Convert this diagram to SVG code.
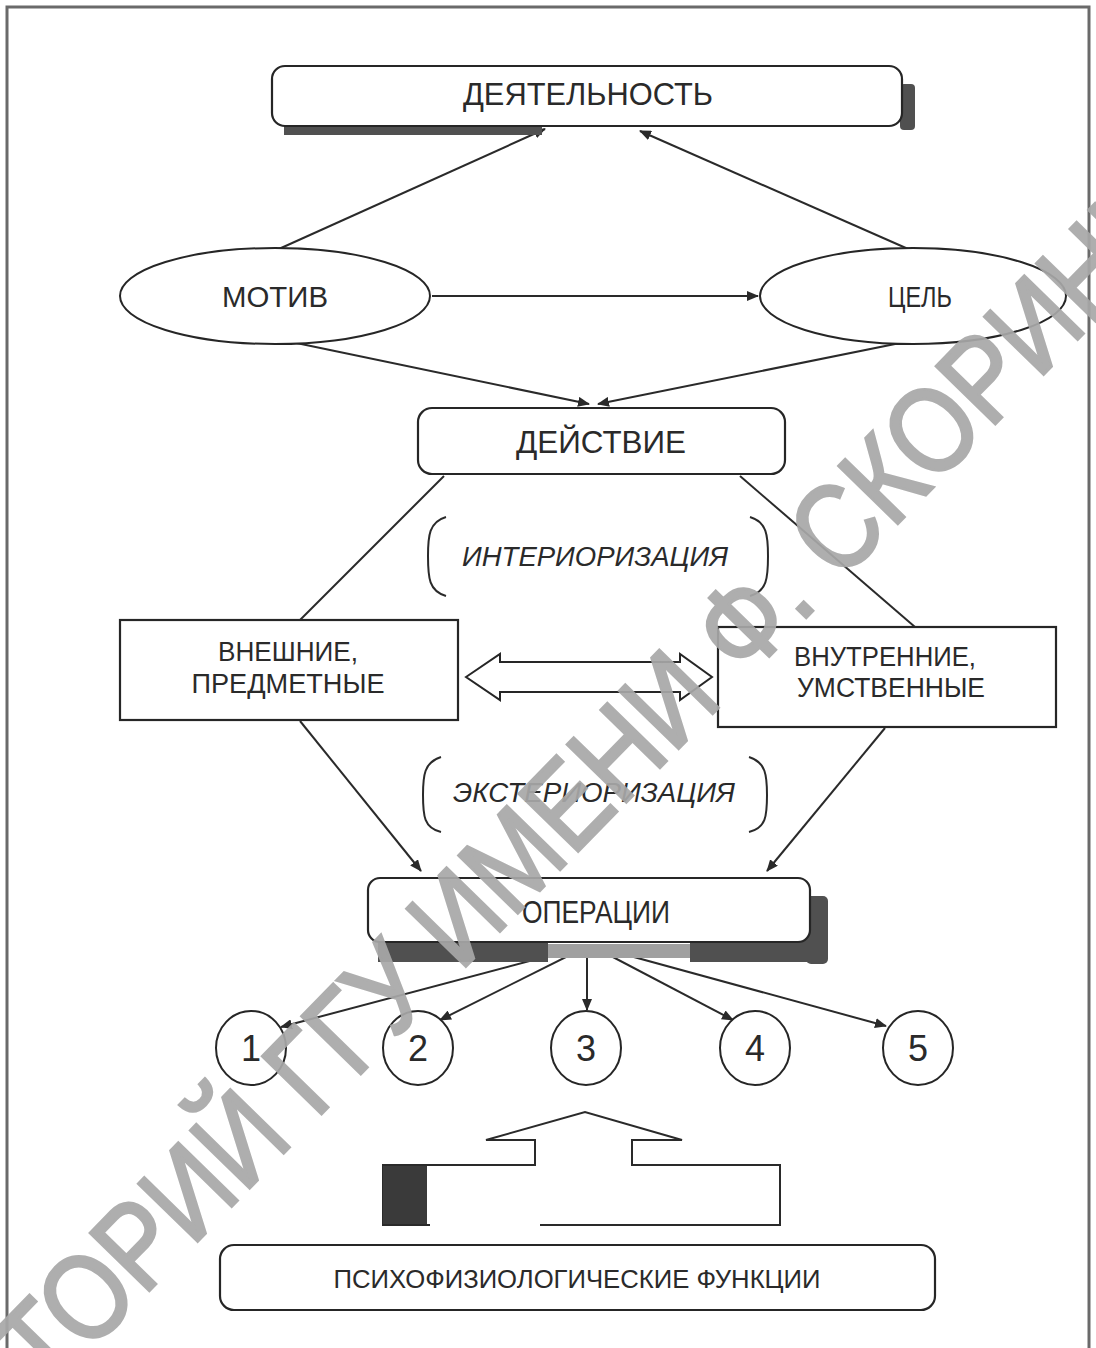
<svg xmlns="http://www.w3.org/2000/svg" width="1096" height="1348" viewBox="0 0 1096 1348">
<defs>
<style>
.frame{fill:none;stroke:#6a6a6a;stroke-width:3}
.box{fill:#fff;stroke:#262626;stroke-width:2.2}
.shape{fill:#fff;stroke:#262626;stroke-width:2}
.line{stroke:#2a2a2a;stroke-width:2;fill:none}
.t{font-family:'Liberation Sans Narrow','Liberation Sans',Arial,sans-serif;fill:#2a2a2a;text-anchor:middle}
.it{font-style:italic}
.shadow{fill:#505050}
.wm{font-family:'Liberation Sans',Arial,sans-serif;fill:#a8a8a8;stroke:#a8a8a8;stroke-width:3;opacity:0.92}
</style>
<marker id="ah" viewBox="0 0 12 10" refX="11" refY="5" markerWidth="12" markerHeight="10" markerUnits="userSpaceOnUse" orient="auto">
<path d="M0,0 L12,5 L0,10 Z" fill="#2a2a2a"/>
</marker>
</defs>
<rect width="1096" height="1348" fill="#fff"/>
<rect class="frame" x="7" y="7" width="1082" height="1360"/>

<g id="connectors">
<line class="line" x1="270" y1="253" x2="545" y2="129" marker-end="url(#ah)"/>
<line class="line" x1="915" y1="252" x2="640" y2="131" marker-end="url(#ah)"/>
<line class="line" x1="432" y1="296" x2="758" y2="296" marker-end="url(#ah)"/>
<line class="line" x1="282" y1="340" x2="589" y2="404" marker-end="url(#ah)"/>
<line class="line" x1="905" y1="342" x2="598" y2="404" marker-end="url(#ah)"/>
<line class="line" x1="300" y1="620" x2="444" y2="476"/>
<line class="line" x1="740" y1="476" x2="915" y2="627"/>
<line class="line" x1="300" y1="721" x2="421" y2="871" marker-end="url(#ah)"/>
<line class="line" x1="885" y1="728" x2="767" y2="871" marker-end="url(#ah)"/>
<line class="line" x1="590" y1="945" x2="281" y2="1027" marker-end="url(#ah)"/>
<line class="line" x1="590" y1="945" x2="440" y2="1020" marker-end="url(#ah)"/>
<line class="line" x1="587" y1="945" x2="587" y2="1010" marker-end="url(#ah)"/>
<line class="line" x1="590" y1="945" x2="733" y2="1020" marker-end="url(#ah)"/>
<line class="line" x1="590" y1="945" x2="886" y2="1026" marker-end="url(#ah)"/>
</g>

<g id="n-deyatelnost">
<rect class="shadow" x="900" y="84" width="15" height="46" rx="4"/>
<rect class="shadow" x="284" y="124" width="258" height="11"/>
<rect class="box" x="272" y="66" width="630" height="60" rx="13"/>
<text class="t" x="588" y="105" font-size="32" textLength="250" lengthAdjust="spacingAndGlyphs">ДЕЯТЕЛЬНОСТЬ</text>
</g>

<g id="n-motiv">
<ellipse class="shape" cx="275" cy="296" rx="155" ry="48"/>
<text class="t" x="275" y="307" font-size="29" textLength="106" lengthAdjust="spacingAndGlyphs">МОТИВ</text>
</g>

<g id="n-tsel">
<ellipse class="shape" cx="913" cy="296" rx="153" ry="48"/>
<text class="t" x="920" y="307" font-size="29" textLength="64" lengthAdjust="spacingAndGlyphs">ЦЕЛЬ</text>
</g>

<g id="n-deystvie">
<rect class="box" x="418" y="408" width="367" height="66" rx="14"/>
<text class="t" x="601" y="453" font-size="31" textLength="170" lengthAdjust="spacingAndGlyphs">ДЕЙСТВИЕ</text>
</g>

<g id="n-interiorizatsiya">
<path class="line" d="M446,517 C429,522 428,536 428,556 C428,578 429,591 446,596"/>
<path class="line" d="M750,517 C767,522 768,536 768,556 C768,578 767,591 750,596"/>
<text class="t it" x="595" y="566" font-size="27" textLength="266" lengthAdjust="spacingAndGlyphs">ИНТЕРИОРИЗАЦИЯ</text>
</g>

<g id="n-vneshnie">
<rect class="box" x="120" y="620" width="338" height="100"/>
<text class="t" x="288" y="661" font-size="27" textLength="140" lengthAdjust="spacingAndGlyphs">ВНЕШНИЕ,</text>
<text class="t" x="288" y="693" font-size="27" textLength="193" lengthAdjust="spacingAndGlyphs">ПРЕДМЕТНЫЕ</text>
</g>

<g id="n-vnutrennie">
<rect class="box" x="718" y="627" width="338" height="100"/>
<text class="t" x="885" y="666" font-size="27" textLength="182" lengthAdjust="spacingAndGlyphs">ВНУТРЕННИЕ,</text>
<text class="t" x="891" y="697" font-size="27" textLength="188" lengthAdjust="spacingAndGlyphs">УМСТВЕННЫЕ</text>
</g>

<g id="n-double-arrow">
<polygon class="shape" points="466,677 500,654 500,662 680,662 680,654 712,677 680,700 680,692 500,692 500,700"/>
</g>

<g id="n-eksteriorizatsiya">
<path class="line" d="M441,757 C424,762 423,776 423,795 C423,816 424,828 441,832"/>
<path class="line" d="M749,757 C766,762 767,776 767,795 C767,816 766,828 749,832"/>
<text class="t it" x="594" y="802" font-size="27" textLength="282" lengthAdjust="spacingAndGlyphs">ЭКСТЕРИОРИЗАЦИЯ</text>
</g>

<g id="n-operatsii">
<rect class="shadow" x="806" y="896" width="22" height="68" rx="5"/>
<rect class="shadow" x="378" y="940" width="170" height="22"/>
<rect class="shadow" x="690" y="940" width="130" height="22"/>
<rect x="548" y="944" width="142" height="14" fill="#a0a0a0"/>
<rect class="box" x="368" y="878" width="442" height="64" rx="12"/>
<text class="t" x="596" y="923" font-size="32" textLength="148" lengthAdjust="spacingAndGlyphs">ОПЕРАЦИИ</text>
</g>

<g id="n-1"><ellipse class="shape" cx="251" cy="1048" rx="35" ry="37"/><text class="t" x="251" y="1061" font-size="36">1</text></g>
<g id="n-2"><ellipse class="shape" cx="418" cy="1048" rx="35" ry="37"/><text class="t" x="418" y="1061" font-size="36">2</text></g>
<g id="n-3"><ellipse class="shape" cx="586" cy="1048" rx="35" ry="37"/><text class="t" x="586" y="1061" font-size="36">3</text></g>
<g id="n-4"><ellipse class="shape" cx="755" cy="1048" rx="35" ry="37"/><text class="t" x="755" y="1061" font-size="36">4</text></g>
<g id="n-5"><ellipse class="shape" cx="918" cy="1048" rx="35" ry="37"/><text class="t" x="918" y="1061" font-size="36">5</text></g>

<g id="n-up-arrow">
<polygon fill="#fff" points="383,1165 535,1165 535,1140 486,1140 585,1112 682,1140 632,1140 632,1165 780,1165 780,1225 383,1225"/>
<path class="line" d="M430,1225 L383,1225 L383,1165 L535,1165 L535,1140 L486,1140 L585,1112 L682,1140 L632,1140 L632,1165 L780,1165 L780,1225 L540,1225"/>
<rect x="383" y="1166" width="44" height="58" fill="#3a3a3a"/>
</g>

<g id="n-psikho">
<rect class="box" x="220" y="1245" width="715" height="65" rx="14"/>
<text class="t" x="577" y="1288" font-size="25" textLength="487" lengthAdjust="spacingAndGlyphs">ПСИХОФИЗИОЛОГИЧЕСКИЕ ФУНКЦИИ</text>
</g>

<g id="watermark">
<text class="wm" transform="translate(-254,1704) rotate(-45.7)" x="0" y="0" font-size="120" textLength="2090" lengthAdjust="spacingAndGlyphs">РЕПОЗИТОРИЙ ГГУ ИМЕНИ Ф. СКОРИНЫ</text>
</g>
</svg>
